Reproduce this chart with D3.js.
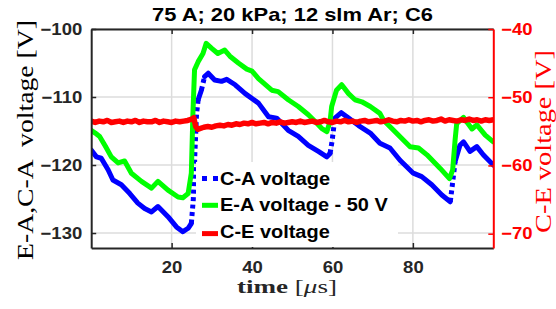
<!DOCTYPE html>
<html>
<head>
<meta charset="utf-8">
<script src="https://cdn.jsdelivr.net/npm/d3@7"></script>
<style>
  body { margin: 0; background: #fff; }
</style>
</head>
<body>
<div id="chart"></div>
<script>
// chart data
var titleText = '75 A; 20 kPa; 12 slm Ar; C6';
var legendLabels = ['C-A voltage', 'E-A voltage - 50 V', 'C-E voltage'];
var xTicks = [20, 40, 60, 80];
var leftTicks = [-130, -120, -110, -100];
var rightTicks = [-70, -60, -50, -40];

// C-A voltage (left axis)
var caTime = [0, 1.3, 2.5, 4.2, 5.4, 7.5, 9.6, 11.6, 13.3, 15, 16.6, 19.1, 21.2, 22.8, 24.1, 24.9,
  25.4, 25.8, 26.2, 26.6, 27.4, 28.2, 29.1, 30.7, 32.4, 33.7, 35.8, 38.3, 41.6, 44.1, 46.1, 49,
  51.5, 54, 56.5, 58.6, 59.4, 59.9, 60.6, 62.2, 64, 66.5, 69.4, 71.8, 74.3, 76.8, 80.1, 82.2,
  84.7, 87.2, 89.3, 89.7, 90.5, 91.7, 92.6, 94.2, 95.9, 97.5, 100];
var caVolt = [-117.8, -118.8, -119, -120.7, -122.2, -122.9, -124.2, -125.6, -126.4, -126.9, -126.1, -127.6, -129.1, -129.8, -129.3, -128.6,
  -125, -118, -112.5, -110.4, -109, -107, -106.5, -107.5, -107.7, -107.4, -108.2, -109.5, -110.9, -112.9, -113.1, -114.9,
  -115.8, -117.1, -118, -118.8, -118.3, -116.5, -113.1, -112.3, -113.1, -114.2, -115.3, -116.8, -117.5, -119.3, -121.2, -121.7,
  -122.9, -124.4, -125.4, -123.5, -119.5, -117.1, -116.6, -118, -117.3, -118.5, -120];

// E-A voltage - 50 V (left axis)
var eaTime = [0, 1, 2.1, 3.5, 5, 6.7, 8.3, 10, 12.5, 15, 16.6, 19.1, 21.6, 22.8, 24.1, 24.9,
  25.3, 25.7, 26.6, 27.8, 28.6, 29.9, 31.5, 33.2, 34.5, 36.6, 38.7, 40, 41.6, 44.9, 46.5, 49,
  51.5, 54, 55.7, 57.3, 58.6, 59.4, 59.8, 61, 62.3, 64, 65.6, 67.3, 69.4, 71.8, 72.7, 75.2,
  79.3, 81.4, 83.5, 86.8, 89.1, 89.9, 90.5, 90.9, 92.6, 94.7, 95.9, 98, 100];
var eaVolt = [-114.9, -115.3, -115.8, -117.2, -118.8, -119.7, -119.4, -121.2, -122.4, -123.4, -122.4, -123.7, -124.7, -124.8, -124.2, -121.2,
  -112.4, -106, -104.8, -103.6, -102.1, -102.8, -103.6, -103.1, -104, -105, -105.9, -106.2, -107.3, -109, -109.2, -110.4,
  -111.4, -112.6, -113.6, -114.6, -115.1, -113.6, -111.4, -109, -108.2, -109.5, -110.4, -110.7, -111.4, -112.4, -113.4, -114.9,
  -117.3, -117.5, -118.5, -120.5, -122, -120.7, -116.3, -113.9, -113, -114.7, -114.1, -115.6, -116.6];

// C-E voltage (right axis)
var ceTime = [0, 1, 2, 3, 4, 5, 6, 7, 8, 9, 10, 11, 12, 13, 14, 15, 16, 17, 18, 19, 20, 21, 22, 23, 24,
  25, 25.5, 26, 26.5,
  27, 28, 29, 30, 31, 32, 33, 34, 35, 36, 37, 38, 39, 40, 41, 42, 43, 44, 45, 46, 47, 48, 49, 50,
  51, 52, 53, 54, 55, 56, 57, 58, 59, 60, 61, 62, 63, 64, 65, 66, 67, 68, 69, 70, 71, 72, 73, 74, 75,
  76, 77, 78, 79, 80, 81, 82, 83, 84, 85, 86, 87, 88, 89, 90, 91, 92, 93, 94, 95, 96, 97, 98, 99, 100];
var ceVolt = [-53.5, -53.7, -53.5, -53.6, -53.4, -53.7, -53.6, -53.5, -53.7, -53.5, -53.6, -53.4, -53.7, -53.5, -53.6, -53.6, -53.4, -53.7, -53.5, -53.6, -53.7, -53.5, -53.6, -53.5, -53.4,
  -53.2, -53.0, -54.3, -54.7,
  -54.6, -54.4, -54.3, -54.4, -54.2, -54.1, -54.2, -54.0, -54.1, -53.9, -54.0, -53.8, -53.9, -53.7, -53.9, -53.8, -53.7, -53.9, -53.7, -53.8, -53.6, -53.8, -53.7, -53.6,
  -53.7, -53.5, -53.7, -53.6, -53.5, -53.7, -53.6, -53.4, -53.6, -53.7, -53.5, -53.6, -53.4, -53.6, -53.5, -53.7, -53.5, -53.4, -53.6, -53.5, -53.4, -53.6, -53.5, -53.3, -53.5,
  -53.6, -53.4, -53.5, -53.3, -53.5, -53.4, -53.6, -53.4, -53.3, -53.5, -53.4, -53.2, -53.5, -53.3, -53.4, -53.5, -53.3, -53.4, -53.2, -53.4, -53.3, -53.5, -53.3, -53.4, -53.3];

// global layout
var chart_width = 556;
var chart_height = 309;
var plot = { left: 91.2, right: 493.3, top: 29, bottom: 248 };
var sansFont = "'Liberation Sans', Arial, sans-serif";
var serifFont = "'Liberation Serif', 'DejaVu Serif', serif";
var darkGray = '#262626';
var textStretch = 1.12;

var x_scale = d3.scaleLinear().domain([0, 100]).range([plot.left, plot.right]);
var yl_scale = d3.scaleLinear().domain([-132.2, -100]).range([plot.bottom, plot.top]);
var yr_scale = d3.scaleLinear().domain([-72.1, -40]).range([plot.bottom, plot.top]);

var svg = d3.select('#chart')
  .append('svg')
  .attr('width', chart_width)
  .attr('height', chart_height);

// widen the sans text a bit, the reference glyphs are wider than Arial
function stretch(sel, k) {
  sel.each(function() {
    var w = this.getComputedTextLength();
    d3.select(this).attr('textLength', w * k).attr('lengthAdjust', 'spacingAndGlyphs');
  });
}

svg.append('defs').append('clipPath').attr('id', 'plotclip')
  .append('rect')
  .attr('x', plot.left).attr('y', plot.top)
  .attr('width', plot.right - plot.left).attr('height', plot.bottom - plot.top);

// grid
var grid = svg.append('g').attr('stroke', '#dcdcdc').attr('stroke-width', 1.5);
xTicks.forEach(function(t) {
  grid.append('line')
    .attr('x1', x_scale(t)).attr('x2', x_scale(t))
    .attr('y1', plot.top).attr('y2', plot.bottom);
});
leftTicks.forEach(function(t) {
  grid.append('line')
    .attr('x1', plot.left).attr('x2', plot.right)
    .attr('y1', yl_scale(t)).attr('y2', yl_scale(t));
});

// data lines
var lines = svg.append('g').attr('clip-path', 'url(#plotclip)');

var lineL = d3.line()
  .x(function(d) { return x_scale(d.t); })
  .y(function(d) { return yl_scale(d.v); });

var lineR = d3.line()
  .x(function(d) { return x_scale(d.t); })
  .y(function(d) { return yr_scale(d.v); });

var caPts = caTime.map(function(t, i) { return { t: t, v: caVolt[i] }; });
var eaPts = eaTime.map(function(t, i) { return { t: t, v: eaVolt[i] }; });
var cePts = ceTime.map(function(t, i) { return { t: t, v: ceVolt[i] }; });

// the dotted C-A trace only reads as dotted on its steep jumps
var runs = [];
var cur = null;
for (var i = 1; i < caPts.length; i++) {
  var a = caPts[i - 1], b = caPts[i];
  var steep = Math.abs((b.v - a.v) / (b.t - a.t)) > 2.2;
  if (!cur || cur.steep !== steep) {
    cur = { steep: steep, pts: [a] };
    runs.push(cur);
  }
  cur.pts.push(b);
}

runs.forEach(function(r) {
  lines.append('path')
    .attr('fill', 'none')
    .attr('stroke', '#0000ff')
    .attr('stroke-width', 5)
    .attr('stroke-linejoin', 'round')
    .attr('stroke-linecap', r.steep ? 'butt' : 'round')
    .attr('stroke-dasharray', r.steep ? '4,3.5' : null)
    .attr('d', lineL(r.pts));
});

lines.append('path')
  .attr('fill', 'none')
  .attr('stroke', '#00ff00')
  .attr('stroke-width', 5)
  .attr('stroke-linejoin', 'round')
  .attr('stroke-linecap', 'round')
  .attr('d', lineL(eaPts));

lines.append('path')
  .attr('fill', 'none')
  .attr('stroke', '#ff0000')
  .attr('stroke-width', 5.5)
  .attr('stroke-linejoin', 'round')
  .attr('d', lineR(cePts));

// axes
var tickFont = function(g, color) {
  g.selectAll('text')
    .attr('font-family', sansFont)
    .attr('font-size', 16.5)
    .attr('font-weight', 'bold')
    .attr('fill', color);
  g.selectAll('line').attr('stroke', color).attr('stroke-width', 1.5);
  g.select('.domain').attr('stroke', color).attr('stroke-width', 2);
};

var gx = svg.append('g')
  .attr('transform', 'translate(0,' + plot.bottom + ')')
  .call(d3.axisBottom(x_scale).tickValues(xTicks).tickSize(-5).tickSizeOuter(0).tickPadding(13));
tickFont(gx, darkGray);

var gxTop = svg.append('g')
  .attr('transform', 'translate(0,' + plot.top + ')')
  .call(d3.axisTop(x_scale).tickValues(xTicks).tickSize(-5).tickSizeOuter(0).tickFormat(''));
tickFont(gxTop, darkGray);

var gl = svg.append('g')
  .attr('transform', 'translate(' + plot.left + ',0)')
  .call(d3.axisLeft(yl_scale).tickValues(leftTicks).tickSize(-5).tickSizeOuter(0).tickPadding(9));
tickFont(gl, darkGray);

var gr = svg.append('g')
  .attr('transform', 'translate(' + plot.right + ',0)')
  .call(d3.axisRight(yr_scale).tickValues(rightTicks).tickSize(-5).tickSizeOuter(0).tickPadding(8));
tickFont(gr, '#ff0000');

stretch(svg.selectAll('.tick text'), textStretch);

// legend
var legend = svg.append('g');
legend.append('rect')
  .attr('x', 196).attr('y', 162)
  .attr('width', 202).attr('height', plot.bottom - 1 - 162)
  .attr('fill', '#fff');

var legendColors = ['#0000ff', '#00ff00', '#ff0000'];
var legendRows = legend.selectAll('.legend')
  .data(legendLabels)
  .enter()
  .append('g')
  .attr('class', 'legend')
  .attr('transform', function(d, i) {
    return 'translate(202,' + (184.5 + i * 26.8) + ')';
  });

legendRows.append('line')
  .attr('x1', 0).attr('x2', 16)
  .attr('y1', function(d, i) { return i === 2 ? -4.5 : -6; })
  .attr('y2', function(d, i) { return i === 2 ? -4.5 : -6; })
  .attr('stroke', function(d, i) { return legendColors[i]; })
  .attr('stroke-width', 5)
  .attr('stroke-dasharray', function(d, i) { return i === 0 ? '5,6' : null; });

legendRows.append('text')
  .attr('x', 18)
  .attr('font-family', sansFont)
  .attr('font-size', 17.5)
  .attr('font-weight', 'bold')
  .attr('fill', '#000')
  .text(function(d) { return d; });
stretch(legendRows.selectAll('text'), 1.14);

// title
svg.append('text')
  .attr('x', 292.5).attr('y', 20.7)
  .attr('text-anchor', 'middle')
  .attr('font-family', sansFont)
  .attr('font-size', 19)
  .attr('font-weight', 'bold')
  .attr('fill', '#000')
  .attr('textLength', 281)
  .attr('lengthAdjust', 'spacingAndGlyphs')
  .text(titleText);

// axis labels
var xlab = svg.append('text')
  .attr('x', 287).attr('y', 293)
  .attr('text-anchor', 'middle')
  .attr('font-family', serifFont)
  .attr('font-size', 18)
  .attr('fill', darkGray)
  .attr('textLength', 100)
  .attr('lengthAdjust', 'spacingAndGlyphs');
xlab.append('tspan').attr('font-weight', 'bold').text('time ');
xlab.append('tspan').text('[');
xlab.append('tspan').attr('font-style', 'italic').text('\u03bc');
xlab.append('tspan').text('s]');

svg.append('text')
  .attr('transform', 'translate(33,140) rotate(-90)')
  .attr('text-anchor', 'middle')
  .attr('font-family', serifFont)
  .attr('font-size', 23)
  .attr('fill', '#000')
  .attr('textLength', 240)
  .attr('lengthAdjust', 'spacingAndGlyphs')
  .style('white-space', 'pre')
  .text('E-A,C-A  voltage [V]');

svg.append('text')
  .attr('transform', 'translate(551,141.5) rotate(-90)')
  .attr('text-anchor', 'middle')
  .attr('font-family', serifFont)
  .attr('font-size', 23)
  .attr('fill', '#ff0000')
  .attr('textLength', 183)
  .attr('lengthAdjust', 'spacingAndGlyphs')
  .text('C-E voltage [V]');
</script>
</body>
</html>
